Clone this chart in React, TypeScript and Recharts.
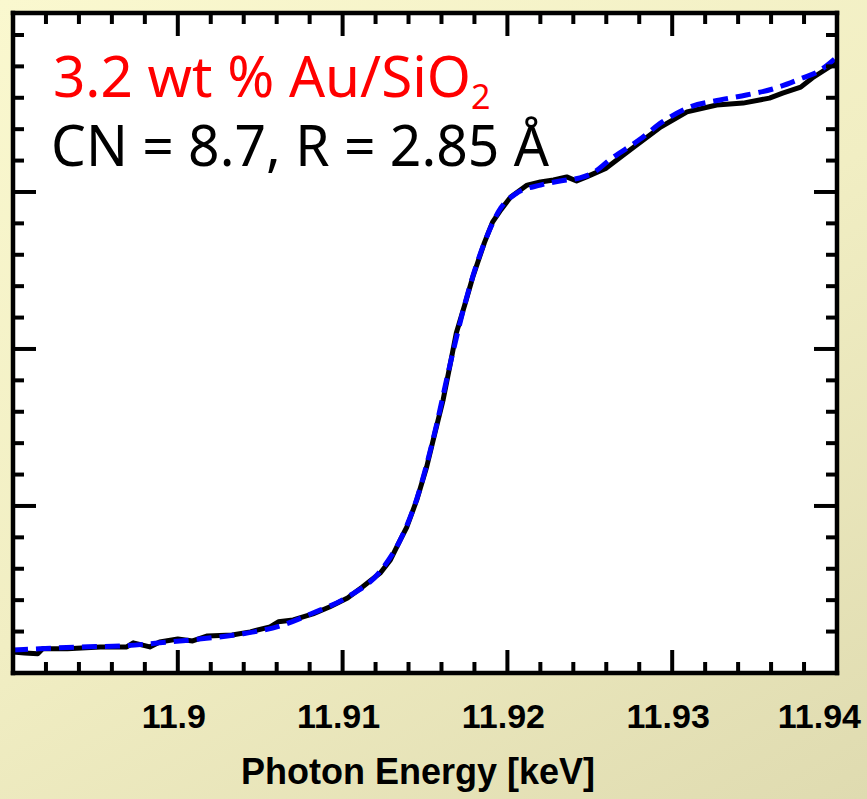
import React from 'react';
import { LineChart, Line, XAxis, YAxis, CartesianGrid } from 'recharts';

// measured Au L3-edge XANES (black, solid)
const energy = [
  11.8900, 11.8907, 11.8915, 11.8918, 11.8933, 11.8953, 11.8969, 11.8973, 11.8983, 11.8989,
  11.9000, 11.9009, 11.9018, 11.9033, 11.9044, 11.9056, 11.9061, 11.9070, 11.9082, 11.9092,
  11.9103, 11.9112, 11.9123, 11.9129, 11.9135, 11.9139, 11.9145, 11.9151, 11.9156, 11.9161,
  11.9165, 11.9169, 11.9175, 11.9179, 11.9186, 11.9191, 11.9196, 11.9202, 11.9212, 11.9220,
  11.9228, 11.9236, 11.9242, 11.9248, 11.9260, 11.9268, 11.9276, 11.9293, 11.9309, 11.9327,
  11.9343, 11.9359, 11.9367, 11.9378, 11.9385, 11.9400,
];
const measured = [
  0.035, 0.032, 0.029, 0.045, 0.045, 0.051, 0.051, 0.064, 0.051, 0.067,
  0.076, 0.070, 0.086, 0.089, 0.099, 0.115, 0.131, 0.137, 0.156, 0.178,
  0.207, 0.242, 0.287, 0.328, 0.392, 0.433, 0.519, 0.624, 0.732, 0.838,
  0.943, 1.051, 1.156, 1.229, 1.338, 1.404, 1.443, 1.484, 1.522, 1.532,
  1.538, 1.548, 1.535, 1.548, 1.576, 1.608, 1.640, 1.707, 1.755, 1.777,
  1.783, 1.799, 1.815, 1.834, 1.863, 1.914,
];

// fitted curve (blue, dashed)
const fitEnergy = [
  11.8900, 11.8916, 11.8941, 11.8965, 11.8989, 11.9013, 11.9038, 11.9062, 11.9082, 11.9103,
  11.9123, 11.9135, 11.9145, 11.9156, 11.9165, 11.9175, 11.9186, 11.9196, 11.9205, 11.9220,
  11.9232, 11.9244, 11.9252, 11.9262, 11.9280, 11.9294, 11.9311, 11.9329, 11.9345, 11.9361,
  11.9379, 11.9388, 11.9400,
];
const fitted = [
  0.041, 0.045, 0.051, 0.054, 0.064, 0.076, 0.092, 0.118, 0.159, 0.210,
  0.293, 0.392, 0.522, 0.736, 0.946, 1.159, 1.338, 1.449, 1.494, 1.522,
  1.535, 1.545, 1.561, 1.602, 1.666, 1.723, 1.771, 1.793, 1.809, 1.828,
  1.863, 1.882, 1.930,
];

const xTicks = [
  11.89, 11.892, 11.894, 11.896, 11.898, 11.9, 11.902, 11.904, 11.906, 11.908,
  11.91, 11.912, 11.914, 11.916, 11.918, 11.92, 11.922, 11.924, 11.926, 11.928,
  11.93, 11.932, 11.934, 11.936, 11.938, 11.94,
];
const xLabels = ['11.9', '11.91', '11.92', '11.93', '11.94'];
const yTicks = [
  0.1, 0.2, 0.3, 0.4, 0.5, 0.6, 0.7, 0.8, 0.9, 1.0,
  1.1, 1.2, 1.3, 1.4, 1.5, 1.6, 1.7, 1.8, 1.9, 2.0,
];
const yMajor = [0.5, 1.0, 1.5];

const measuredData = energy.map((e, i) => ({ e, mu: measured[i] }));
const fitData = fitEnergy.map((e, i) => ({ e, mu: fitted[i] }));

const near = (a: number, b: number) => Math.abs(a - b) < 1e-6;
const isMajorX = (v: number) => near(v * 100, Math.round(v * 100));
const isMajorY = (v: number) => yMajor.some((m) => near(m, v));

const axisLine = { stroke: '#000', strokeWidth: 4.5, strokeLinecap: 'square' as const };
const labelFont = '"Liberation Sans", Arial, sans-serif';
const noteFont = '"Noto Sans", "DejaVu Sans", sans-serif';

function BottomTick({ x, y, payload }: any) {
  const v = payload.value;
  const label = xLabels.find((l) => near(parseFloat(l), v));
  const last = label === xLabels[xLabels.length - 1];
  return (
    <g>
      <line x1={x} x2={x} y1={y} y2={y - (isMajorX(v) ? 23 : 11)} stroke="#000" strokeWidth={4} />
      {label && (
        <text
          x={last ? x + 24 : x - 4}
          y={y + 55}
          textAnchor={last ? 'end' : 'middle'}
          fontFamily={labelFont}
          fontWeight="bold"
          fontSize={34}
          fill="#000"
        >
          {label}
        </text>
      )}
    </g>
  );
}

function TopTick({ x, y, payload }: any) {
  return <line x1={x} x2={x} y1={y} y2={y + (isMajorX(payload.value) ? 23 : 11)} stroke="#000" strokeWidth={4} />;
}

function LeftTick({ x, y, payload }: any) {
  return <line x1={x} x2={x + (isMajorY(payload.value) ? 23 : 11)} y1={y} y2={y} stroke="#000" strokeWidth={4} />;
}

function RightTick({ x, y, payload }: any) {
  return <line x1={x} x2={x - (isMajorY(payload.value) ? 23 : 11)} y1={y} y2={y} stroke="#000" strokeWidth={4} />;
}

export default function App() {
  return (
    <div
      style={{
        position: 'absolute',
        left: 0,
        top: 0,
        width: 867,
        height: 799,
        background: 'linear-gradient(150deg, #faf8cf 0%, #f1eec3 50%, #dfdbb0 100%)',
        overflow: 'hidden',
      }}
    >
      <LineChart width={867} height={799} margin={{ top: 12, right: 29, bottom: 125, left: 12 }}>
        <CartesianGrid horizontal={false} vertical={false} fill="#fff" />
        <XAxis
          dataKey="e"
          type="number"
          domain={[11.89, 11.94]}
          allowDataOverflow
          ticks={xTicks}
          interval={0}
          height={1}
          tickSize={0}
          tickMargin={0}
          tickLine={false}
          axisLine={axisLine}
          tick={<BottomTick />}
        />
        <XAxis
          xAxisId="top"
          orientation="top"
          dataKey="e"
          type="number"
          domain={[11.89, 11.94]}
          allowDataOverflow
          ticks={xTicks}
          interval={0}
          height={1}
          tickSize={0}
          tickMargin={0}
          tickLine={false}
          axisLine={axisLine}
          tick={<TopTick />}
        />
        <YAxis
          type="number"
          domain={[-0.032, 2.07]}
          allowDataOverflow
          ticks={yTicks}
          interval={0}
          width={1}
          tickSize={0}
          tickMargin={0}
          tickLine={false}
          axisLine={axisLine}
          tick={<LeftTick />}
        />
        <YAxis
          yAxisId="right"
          orientation="right"
          type="number"
          domain={[-0.032, 2.07]}
          allowDataOverflow
          ticks={yTicks}
          interval={0}
          width={1}
          tickSize={0}
          tickMargin={0}
          tickLine={false}
          axisLine={axisLine}
          tick={<RightTick />}
        />
        <Line
          data={measuredData}
          dataKey="mu"
          type="linear"
          stroke="#000"
          strokeWidth={5}
          strokeLinejoin="round"
          dot={false}
          isAnimationActive={false}
        />
        <Line
          data={fitData}
          dataKey="mu"
          type="monotone"
          stroke="#0000ff"
          strokeWidth={5}
          strokeDasharray="15 8"
          dot={false}
          isAnimationActive={false}
        />
      </LineChart>
      <svg
        width={867}
        height={799}
        style={{ position: 'absolute', left: 0, top: 0, pointerEvents: 'none' }}
      >
        <text x={53} y={97} fontFamily={noteFont} fontSize={56} fill="#ff0000">
          <tspan textLength={418} lengthAdjust="spacingAndGlyphs">3.2 wt % Au/SiO</tspan>
          <tspan dy={12} fontSize={34}>2</tspan>
        </text>
        <text x={51} y={166} fontFamily={noteFont} fontSize={56} fill="#000" textLength={498} lengthAdjust="spacingAndGlyphs">
          CN = 8.7, R = 2.85 Å
        </text>
        <text x={418} y={784} textAnchor="middle" fontFamily={labelFont} fontWeight="bold" fontSize={36} fill="#000">
          Photon Energy [keV]
        </text>
      </svg>
    </div>
  );
}
